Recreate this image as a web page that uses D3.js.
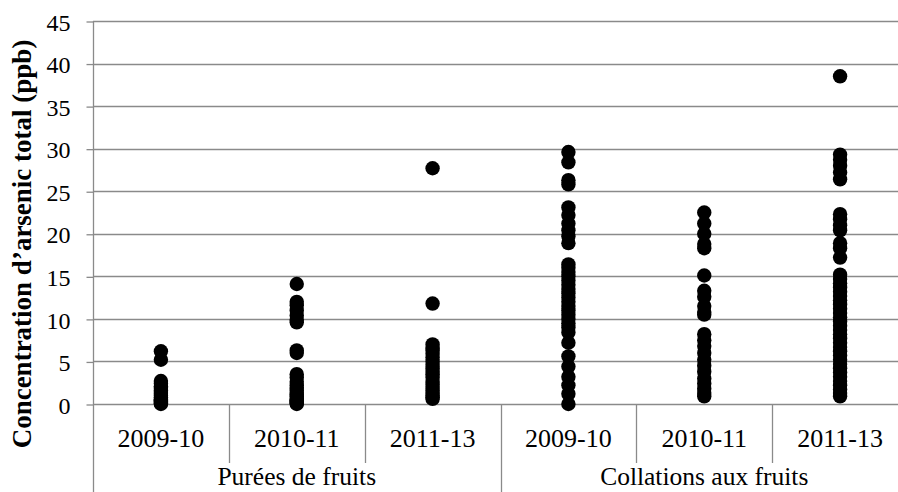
<!DOCTYPE html>
<html>
<head>
<meta charset="utf-8">
<script src="https://cdn.jsdelivr.net/npm/d3@7"></script>
<style>
  html, body { margin: 0; padding: 0; background: #ffffff; }
  svg { display: block; }
  text { font-family: "Liberation Serif", "Times New Roman", serif; fill: #000; }
</style>
</head>
<body>
<svg id="chart" width="898" height="492"></svg>
<script>
// Groups and sampling periods on the two-level category axis
const groupNames = ["Purées de fruits", "Collations aux fruits"];
const periods = ["2009-10", "2010-11", "2011-13"];
const yTickValues = [0, 5, 10, 15, 20, 25, 30, 35, 40, 45];
const yTitle = "Concentration d’arsenic total (ppb)";

// Total arsenic concentrations (ppb), one array per group × period
const pureesA = [6.2, 5.2, 2.7, 2.4, 2.1, 1.9, 1.6, 1.4, 1.2, 1.0, 0.8, 0.6, 0.5, 0.4, 0.3, 0.2, 0.1, 0.0];
const pureesB = [14.1, 12.0, 11.6, 11.0, 10.4, 9.9, 9.6, 6.3, 6.0, 3.5, 3.1, 2.6, 2.2, 1.9, 1.6, 1.3, 1.1, 0.9, 0.7, 0.5, 0.4, 0.3, 0.2, 0.1, 0.0];
const pureesC = [27.7, 11.8, 7.0, 6.6, 6.3, 5.9, 5.5, 5.0, 4.6, 4.2, 3.8, 3.5, 3.1, 2.7, 2.3, 2.0, 1.6, 1.3, 1.0, 0.8, 0.6];
const collationsA = [29.6, 28.4, 26.3, 25.8, 23.1, 22.2, 21.2, 20.4, 19.7, 18.9, 16.4, 16.0, 15.5, 15.0, 14.5, 14.0, 13.5, 13.0, 12.5, 12.0, 11.5, 11.0, 10.5, 10.0, 9.5, 9.0, 8.4, 7.2, 5.6, 4.4, 3.2, 2.2, 1.2, 0.0];
const collationsB = [22.5, 21.2, 20.0, 18.8, 18.3, 15.1, 13.3, 12.6, 11.5, 10.8, 10.5, 8.2, 7.5, 6.8, 6.0, 5.2, 4.5, 3.8, 3.0, 2.4, 1.8, 1.3, 0.9];
const collationsC = [38.5, 29.3, 28.7, 28.0, 27.2, 26.4, 22.3, 21.7, 21.0, 20.4, 18.9, 18.3, 17.2, 15.2, 14.7, 14.2, 13.7, 13.2, 12.7, 12.2, 11.7, 11.2, 10.7, 10.2, 9.7, 9.2, 8.7, 8.2, 7.7, 7.2, 6.7, 6.2, 5.7, 5.2, 4.7, 4.2, 3.7, 3.2, 2.7, 2.2, 1.7, 1.3, 0.9];

const seriesByGroup = [
  [pureesA, pureesB, pureesC],
  [collationsA, collationsB, collationsC]
];

// Flatten into category keys (group|period)
const categories = [];
groupNames.forEach((g, gi) => periods.forEach((p, pi) => {
  categories.push({ key: g + "|" + p, group: g, period: p, values: seriesByGroup[gi][pi] });
}));

const svg = d3.select("#chart");
const plotLeft = 93, plotRight = 908, plotTop = 21, plotBottom = 404;
const gridColor = "#8a8a8a";

const x = d3.scaleBand().domain(categories.map(c => c.key)).range([plotLeft, plotRight]).padding(0);
const y = d3.scaleLinear().domain([0, 45]).range([plotBottom, plotTop]);

// Horizontal gridlines
svg.append("g").selectAll("line").data(yTickValues).join("line")
  .attr("x1", plotLeft).attr("x2", plotRight)
  .attr("y1", d => Math.round(y(d)) + 0.5).attr("y2", d => Math.round(y(d)) + 0.5)
  .attr("stroke", gridColor).attr("stroke-width", 1.3);

// Y axis with outward ticks
const yAxis = svg.append("g").attr("transform", `translate(${plotLeft + 0.5},0.5)`)
  .call(d3.axisLeft(y).tickValues(yTickValues).tickSize(7).tickPadding(16).tickSizeOuter(0));
yAxis.select(".domain").remove();
yAxis.selectAll(".tick line").attr("stroke", gridColor).attr("stroke-width", 1.3);
yAxis.selectAll(".tick text").attr("font-family", "Liberation Serif, Times New Roman, serif")
  .attr("font-size", 24).attr("fill", "#000").attr("dy", "0.36em");

// Vertical axis line running down through the category labels
svg.append("line")
  .attr("x1", plotLeft + 0.5).attr("x2", plotLeft + 0.5)
  .attr("y1", plotTop).attr("y2", 492)
  .attr("stroke", gridColor).attr("stroke-width", 1.3);

// Category separators: short between periods, long between groups
const bw = x.bandwidth();
categories.forEach((c, i) => {
  if (i === 0) return;
  const xs = Math.round(x(c.key)) + 0.5;
  const isGroupEdge = c.period === periods[0];
  svg.append("line")
    .attr("x1", xs).attr("x2", xs)
    .attr("y1", plotBottom).attr("y2", isGroupEdge ? 492 : 463)
    .attr("stroke", gridColor).attr("stroke-width", 1.3);
});

// Period labels
svg.append("g").selectAll("text").data(categories).join("text")
  .attr("x", d => x(d.key) + bw / 2)
  .attr("y", 447)
  .attr("text-anchor", "middle")
  .attr("font-size", 26)
  .text(d => d.period);

// Group labels
groupNames.forEach(g => {
  const keys = categories.filter(c => c.group === g).map(c => c.key);
  const x0 = x(keys[0]), x1 = x(keys[keys.length - 1]) + bw;
  svg.append("text")
    .attr("x", (x0 + x1) / 2)
    .attr("y", 485)
    .attr("text-anchor", "middle")
    .attr("font-size", 25.5)
    .text(g);
});

// Y axis title
svg.append("text")
  .attr("transform", "translate(31,244) rotate(-90)")
  .attr("text-anchor", "middle")
  .attr("font-size", 27)
  .attr("font-weight", "bold")
  .text(yTitle);

// Data points
const pts = categories.flatMap(c => c.values.map(v => ({ key: c.key, v })));
svg.append("g").selectAll("circle").data(pts).join("circle")
  .attr("cx", d => x(d.key) + bw / 2)
  .attr("cy", d => y(d.v))
  .attr("r", 7.2)
  .attr("fill", "#000");
</script>
</body>
</html>
